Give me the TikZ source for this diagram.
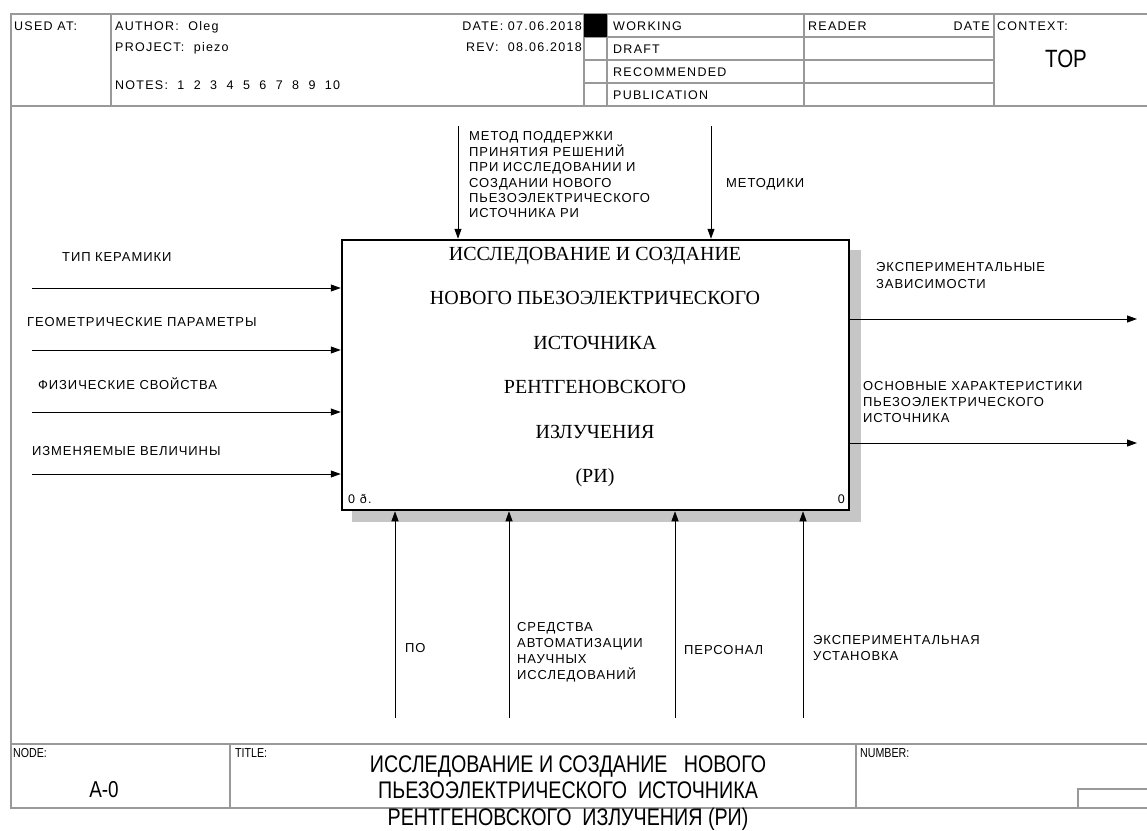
\documentclass[tikz,border=0pt]{standalone}
\usepackage{fontspec}
\setmainfont{Liberation Sans}
\newfontfamily\lblfont[LetterSpace=7]{Liberation Sans}
\newfontfamily\hdrfont[LetterSpace=10]{Liberation Sans}
\newfontfamily\boxfont{Liberation Serif}
\newfontfamily\narrowfont[FakeStretch=0.82]{Liberation Sans}
\usetikzlibrary{arrows.meta, positioning, backgrounds}

\begin{document}
\begin{tikzpicture}[x=1pt, y=-1pt,
  frm/.style ={draw=gray!80, line width=1.6pt},
  cel/.style ={draw=gray!80, line width=1.2pt},
  hdr/.style ={anchor=base west, inner sep=0pt,
               font=\hdrfont\fontsize{12.5}{14}\selectfont},
  lbl/.style ={anchor=west, inner sep=0pt, align=left,
               font=\lblfont\fontsize{13}{15.5}\selectfont},
  nrw/.style ={inner sep=0pt, align=center, font=\narrowfont},
  fbox/.style={rectangle, draw=black, line width=2.5pt, fill=white,
               minimum width=507pt, minimum height=270pt, inner sep=0pt},
  shd/.style ={fill=gray!45},
  arr/.style ={-{Triangle[length=10pt, width=7pt]}, line width=0.9pt},
]
\useasboundingbox (0,0) rectangle (1147,830);

%% ═══ Header ═══
\draw[frm] (1147,14) -- (11,14) -- (11,808) -- (1147,808);
\draw[frm] (11,106) -- (1147,106);
\draw[cel] (111,14) -- (111,106);
\draw[cel] (584,14) -- (584,106);
\draw[cel] (607,14) -- (607,106);
\draw[cel] (804,14) -- (804,106);
\draw[cel] (994,14) -- (994,106);
\draw[cel] (584,37) -- (994,37);
\draw[cel] (584,60) -- (994,60);
\draw[cel] (584,83) -- (994,83);
\fill[black] (584,14) rectangle (607,37);

\node[hdr] (hUsed) at (14,30) {USED AT:};
\node[hdr] (hAuth) at (115,30) {AUTHOR:\ \ Oleg};
\node[hdr] (hProj) at (115,51) {PROJECT:\ \ piezo};
\node[hdr] (hNote) at (115,89) {NOTES:\ \ 1\ \ 2\ \ 3\ \ 4\ \ 5\ \ 6\ \ 7\ \ 8\ \ 9\ \ 10};
\node[hdr, anchor=base east] (hDate) at (582,30) {DATE: 07.06.2018};
\node[hdr, anchor=base east] (hRev)  at (582,51) {REV:\ \ 08.06.2018};
\node[hdr] (hWork) at (613,30) {WORKING};
\node[hdr] (hDraf) at (613,53) {DRAFT};
\node[hdr] (hReco) at (613,76) {RECOMMENDED};
\node[hdr] (hPubl) at (613,99) {PUBLICATION};
\node[hdr] (hRead) at (808,30) {READER};
\node[hdr, anchor=base east] (hRdat) at (990,30) {DATE};
\node[hdr] (hCont) at (997,30) {CONTEXT:};
\node[nrw, font=\narrowfont\fontsize{25}{28}\selectfont] (hTop) at (1066,59) {TOP};

%% ═══ Bloque A0 ═══
\node[fbox] (A0) at (595.5,375) {};
\begin{pgfonlayer}{background}
  \fill[shd] ([shift={(11,11)}]A0.north west) rectangle ([shift={(11,11)}]A0.south east);
\end{pgfonlayer}
\node[align=center, font=\boxfont\fontsize{20}{44.5}\selectfont]
  (A0t) at (595,367) {ИССЛЕДОВАНИЕ И СОЗДАНИЕ\\НОВОГО ПЬЕЗОЭЛЕКТРИЧЕСКОГО\\ИСТОЧНИКА\\РЕНТГЕНОВСКОГО\\ИЗЛУЧЕНИЯ\\(РИ)};
\node[hdr] (A0n) at (348,503) {0 ð.};
\node[hdr, anchor=base east] (A0c) at (845,503) {0};

%% ═══ Entradas ═══
\coordinate (I1) at (32,288);
\coordinate (I2) at (32,350);
\coordinate (I3) at (32,412);
\coordinate (I4) at (32,474);
\draw[arr] (I1) -- (I1 -| A0.west);
\draw[arr] (I2) -- (I2 -| A0.west);
\draw[arr] (I3) -- (I3 -| A0.west);
\draw[arr] (I4) -- (I4 -| A0.west);
\node[lbl] (I1t) at (62,257) {ТИП КЕРАМИКИ};
\node[lbl] (I2t) at (27,322) {ГЕОМЕТРИЧЕСКИЕ ПАРАМЕТРЫ};
\node[lbl] (I3t) at (38,384) {ФИЗИЧЕСКИЕ СВОЙСТВА};
\node[lbl] (I4t) at (32,451) {ИЗМЕНЯЕМЫЕ ВЕЛИЧИНЫ};

%% ═══ Controles ═══
\coordinate (C1) at (458,126);
\coordinate (C2) at (711,126);
\draw[arr] (C1) -- (C1 |- A0.north);
\draw[arr] (C2) -- (C2 |- A0.north);
\node[lbl, font=\lblfont\fontsize{13}{15.4}\selectfont] (C1t) at (469,175)
  {МЕТОД ПОДДЕРЖКИ\\ПРИНЯТИЯ РЕШЕНИЙ\\ПРИ ИССЛЕДОВАНИИ И\\СОЗДАНИИ НОВОГО\\ПЬЕЗОЭЛЕКТРИЧЕСКОГО\\ИСТОЧНИКА РИ};
\node[lbl] (C2t) at (726,184) {МЕТОДИКИ};

%% ═══ Salidas ═══
\coordinate (O1) at (1137,319);
\coordinate (O2) at (1137,443);
\draw[arr] (O1 -| A0.east) -- (O1);
\draw[arr] (O2 -| A0.east) -- (O2);
\node[lbl, font=\lblfont\fontsize{13}{17}\selectfont] (O1t) at (876,276)
  {ЭКСПЕРИМЕНТАЛЬНЫЕ\\ЗАВИСИМОСТИ};
\node[lbl, font=\lblfont\fontsize{13}{16}\selectfont] (O2t) at (863,402)
  {ОСНОВНЫЕ ХАРАКТЕРИСТИКИ\\ПЬЕЗОЭЛЕКТРИЧЕСКОГО\\ИСТОЧНИКА};

%% ═══ Mecanismos ═══
\coordinate (M1) at (395,718);
\coordinate (M2) at (509,718);
\coordinate (M3) at (675,718);
\coordinate (M4) at (803,718);
\draw[arr] (M1) -- (M1 |- A0.south);
\draw[arr] (M2) -- (M2 |- A0.south);
\draw[arr] (M3) -- (M3 |- A0.south);
\draw[arr] (M4) -- (M4 |- A0.south);
\node[lbl] (M1t) at (405,648) {ПО};
\node[lbl, font=\lblfont\fontsize{13}{16}\selectfont] (M2t) at (517,652)
  {СРЕДСТВА\\АВТОМАТИЗАЦИИ\\НАУЧНЫХ\\ИССЛЕДОВАНИЙ};
\node[lbl] (M3t) at (684,650) {ПЕРСОНАЛ};
\node[lbl, font=\lblfont\fontsize{13}{16}\selectfont] (M4t) at (813,648)
  {ЭКСПЕРИМЕНТАЛЬНАЯ\\УСТАНОВКА};

%% ═══ Pie ═══
\draw[frm] (11,744) -- (1147,744);
\draw[cel] (230,744) -- (230,808);
\draw[cel] (856,744) -- (856,808);
\draw[cel] (1147,789) -- (1078,789) -- (1078,808);
\node[nrw, anchor=base west, font=\narrowfont\fontsize{13}{14}\selectfont] (fNode) at (13,757) {NODE:};
\node[nrw, anchor=base west, font=\narrowfont\fontsize{13}{14}\selectfont] (fTitl) at (235,757) {TITLE:};
\node[nrw, anchor=base west, font=\narrowfont\fontsize{13}{14}\selectfont] (fNumb) at (860,757) {NUMBER:};
\node[nrw, font=\narrowfont\fontsize{23}{24}\selectfont] (fA0) at (104,790) {A-0};
\node[nrw, font=\narrowfont\fontsize{24}{26.5}\selectfont] (fTxt) at (568,793)
  {ИССЛЕДОВАНИЕ И СОЗДАНИЕ\ \ \ НОВОГО\\ПЬЕЗОЭЛЕКТРИЧЕСКОГО\ \ ИСТОЧНИКА\\РЕНТГЕНОВСКОГО\ \ ИЗЛУЧЕНИЯ (РИ)};

\end{tikzpicture}
\end{document}
